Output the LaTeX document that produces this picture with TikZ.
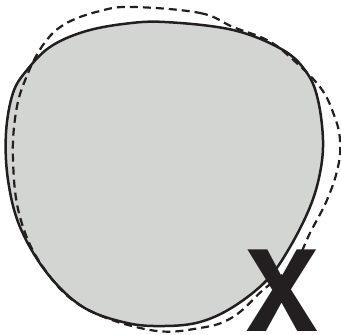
\documentclass[tikz,border=0pt]{standalone}
\usepackage{fontspec}
\newfontfamily\heros{TeX Gyre Heros}
\definecolor{blobgray}{RGB}{211,213,211}
\definecolor{inkblack}{RGB}{35,31,32}
\tikzset{
  outline/.style={draw=inkblack, line width=2.5pt},
  dashoutline/.style={draw=inkblack, line width=2.2pt, dash pattern=on 8pt off 5pt},
  bigletter/.style={inner sep=0pt, anchor=base, text=inkblack, font=\heros\bfseries\fontsize{112}{112}\selectfont}
}
\begin{document}
\begin{tikzpicture}[x=1pt, y=-1pt]
            \useasboundingbox (0,0) rectangle (341,335);

            % filled blob
            \fill[blobgray] plot[smooth cycle, tension=0.6] coordinates {
              (165,22) (233,30) (283,50) (307,73) (318,100) (323,140) (320,173)
              (310,207) (290,247) (267,280) (233,307) (200,322) (165,326)
              (127,323) (83,307) (47,273) (20,227) (8,180) (6,133) (13,93)
              (27,70) (50,47) (83,32) (123,24)};

            % dashed outline
            \draw[dashoutline] plot[smooth cycle, tension=0.65] coordinates {
              (133,7) (200,13) (233,27) (267,40) (290,57) (320,87) (334,115)
              (340,140) (338,167) (327,200) (310,233) (297,260) (280,277)
              (263,290) (233,317) (200,328) (150,330) (83,307) (43,267)
              (20,217) (13,160) (16,112) (26,78) (43,45) (65,24) (100,11)};

            % solid outline
            \draw[outline] plot[smooth cycle, tension=0.6] coordinates {
              (165,22) (233,30) (283,50) (307,73) (318,100) (323,140) (320,173)
              (310,207) (290,247) (267,280) (233,307) (200,322) (165,326)
              (127,323) (83,307) (47,273) (20,227) (8,180) (6,133) (13,93)
              (27,70) (50,47) (83,32) (123,24)};

            \node[bigletter] (mark) at (282,331) {X};
        \end{tikzpicture}
\end{document}
